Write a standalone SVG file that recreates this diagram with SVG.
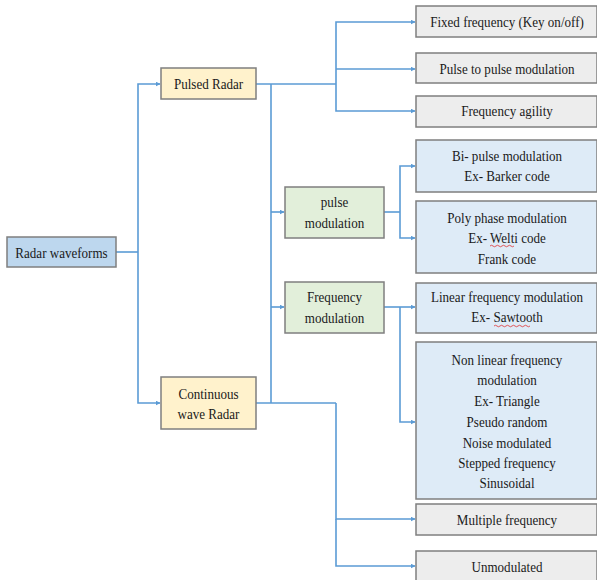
<svg xmlns="http://www.w3.org/2000/svg" width="597" height="580" viewBox="0 0 597 580">
  <style>
    .box { stroke: #7f7f7f; stroke-width: 1.5; }
    .root { fill: #bdd7ee; }
    .radar { fill: #fff2cc; }
    .mod { fill: #e2efda; }
    .leaf { fill: #ededed; }
    .sub { fill: #deebf7; }
    .lbl { font-family: 'Liberation Serif', 'DejaVu Serif', serif; font-size: 15px; fill: #1a1a1a; text-anchor: middle; }
    .wire { fill: none; stroke: #5b9bd5; stroke-width: 1.6; }
    .squig { fill: none; stroke: #e03030; stroke-width: 0.8; }
  </style>
  <defs>
    <marker id="arr" viewBox="0 0 10 10" refX="9" refY="5" markerWidth="5" markerHeight="5" orient="auto" markerUnits="userSpaceOnUse">
      <path d="M0,0 L10,5 L0,10 z" fill="#5b9bd5"/>
    </marker>
  </defs>

  <rect width="597" height="580" fill="#ffffff"/>

  <g id="connectors">
    <!-- root to the two radar types -->
    <path class="wire" d="M116,252 H138"/>
    <path class="wire" d="M138,252 V84 H160" marker-end="url(#arr)"/>
    <path class="wire" d="M138,252 V403 H160" marker-end="url(#arr)"/>
    <!-- pulsed radar branches -->
    <path class="wire" d="M256,84 H336"/>
    <path class="wire" d="M336,84 V22 H415" marker-end="url(#arr)"/>
    <path class="wire" d="M336,69 H415" marker-end="url(#arr)"/>
    <path class="wire" d="M336,84 V111 H415" marker-end="url(#arr)"/>
    <!-- shared trunk to modulation groups -->
    <path class="wire" d="M271,84 V403"/>
    <path class="wire" d="M271,212 H284" marker-end="url(#arr)"/>
    <path class="wire" d="M271,307 H284" marker-end="url(#arr)"/>
    <!-- pulse modulation -->
    <path class="wire" d="M384,212 H400"/>
    <path class="wire" d="M400,212 V166 H415" marker-end="url(#arr)"/>
    <path class="wire" d="M400,212 V238 H415" marker-end="url(#arr)"/>
    <!-- frequency modulation -->
    <path class="wire" d="M384,307 H415" marker-end="url(#arr)"/>
    <path class="wire" d="M400,307 V422 H415" marker-end="url(#arr)"/>
    <!-- continuous wave radar -->
    <path class="wire" d="M256,403 H336"/>
    <path class="wire" d="M336,403 V519 H415" marker-end="url(#arr)"/>
    <path class="wire" d="M336,519 V566 H415" marker-end="url(#arr)"/>
  </g>

  <g id="radar-waveforms">
    <rect class="box root" x="7" y="237" width="109" height="30"/>
    <text class="lbl" transform="translate(61.5,258) scale(0.87,1)">Radar waveforms</text>
  </g>

  <g id="pulsed-radar">
    <rect class="box radar" x="161" y="68" width="95" height="31"/>
    <text class="lbl" transform="translate(208.5,89) scale(0.87,1)">Pulsed Radar</text>
  </g>

  <g id="continuous-wave-radar">
    <rect class="box radar" x="161" y="377" width="95" height="52"/>
    <text class="lbl" transform="translate(208.5,399) scale(0.87,1)">Continuous</text>
    <text class="lbl" transform="translate(208.5,419) scale(0.87,1)">wave Radar</text>
  </g>

  <g id="pulse-modulation">
    <rect class="box mod" x="285" y="187" width="99" height="51"/>
    <text class="lbl" transform="translate(334.5,207) scale(0.87,1)">pulse</text>
    <text class="lbl" transform="translate(334.5,228) scale(0.87,1)">modulation</text>
  </g>

  <g id="frequency-modulation">
    <rect class="box mod" x="285" y="282" width="99" height="51"/>
    <text class="lbl" transform="translate(334.5,302) scale(0.87,1)">Frequency</text>
    <text class="lbl" transform="translate(334.5,323) scale(0.87,1)">modulation</text>
  </g>

  <g id="fixed-frequency">
    <rect class="box leaf" x="416" y="6" width="181" height="31"/>
    <text class="lbl" transform="translate(507,27) scale(0.87,1)">Fixed frequency (Key on/off)</text>
  </g>

  <g id="pulse-to-pulse">
    <rect class="box leaf" x="416" y="53" width="181" height="30"/>
    <text class="lbl" transform="translate(507,74) scale(0.87,1)">Pulse to pulse modulation</text>
  </g>

  <g id="frequency-agility">
    <rect class="box leaf" x="416" y="96" width="181" height="31"/>
    <text class="lbl" transform="translate(507,116) scale(0.87,1)">Frequency agility</text>
  </g>

  <g id="bi-pulse">
    <rect class="box sub" x="416" y="140" width="181" height="52"/>
    <text class="lbl" transform="translate(507,161) scale(0.87,1)">Bi- pulse modulation</text>
    <text class="lbl" transform="translate(507,181) scale(0.87,1)">Ex- Barker code</text>
  </g>

  <g id="poly-phase">
    <rect class="box sub" x="416" y="201" width="181" height="72"/>
    <text class="lbl" transform="translate(507,223) scale(0.87,1)">Poly phase modulation</text>
    <text class="lbl" transform="translate(507,243) scale(0.87,1)">Ex- Welti code</text>
    <text class="lbl" transform="translate(507,264) scale(0.87,1)">Frank code</text>
    <path class="squig" d="M490,246 q1.5,-1.5 3,0 t3,0 t3,0 t3,0 t3,0 t3,0 t3,0 t3,0"/>
  </g>

  <g id="linear-fm">
    <rect class="box sub" x="416" y="283" width="181" height="50"/>
    <text class="lbl" transform="translate(507,302) scale(0.87,1)">Linear frequency modulation</text>
    <text class="lbl" transform="translate(507,322) scale(0.87,1)">Ex- Sawtooth</text>
    <path class="squig" d="M494,326 q1.5,-1.5 3,0 t3,0 t3,0 t3,0 t3,0 t3,0 t3,0 t3,0 t3,0 t3,0 t3,0 t3,0"/>
  </g>

  <g id="non-linear-fm">
    <rect class="box sub" x="416" y="342" width="181" height="157"/>
    <text class="lbl" transform="translate(507,365) scale(0.87,1)">Non linear frequency</text>
    <text class="lbl" transform="translate(507,385) scale(0.87,1)">modulation</text>
    <text class="lbl" transform="translate(507,406) scale(0.87,1)">Ex- Triangle</text>
    <text class="lbl" transform="translate(507,427) scale(0.87,1)">Pseudo random</text>
    <text class="lbl" transform="translate(507,448) scale(0.87,1)">Noise modulated</text>
    <text class="lbl" transform="translate(507,468) scale(0.87,1)">Stepped frequency</text>
    <text class="lbl" transform="translate(507,488) scale(0.87,1)">Sinusoidal</text>
  </g>

  <g id="multiple-frequency">
    <rect class="box leaf" x="416" y="504" width="181" height="31"/>
    <text class="lbl" transform="translate(507,525) scale(0.87,1)">Multiple frequency</text>
  </g>

  <g id="unmodulated">
    <rect class="box leaf" x="416" y="551" width="181" height="40"/>
    <text class="lbl" transform="translate(507,572) scale(0.87,1)">Unmodulated</text>
  </g>
</svg>
